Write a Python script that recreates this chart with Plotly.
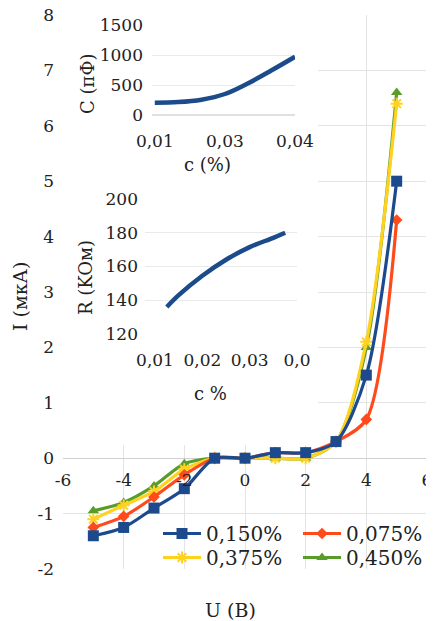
import plotly.graph_objects as go

W, H = 434, 621
OFF = 8  # page body margin of the browser window
FW, FH = W - OFF, H - OFF

# ---------------- data ----------------
u_volts = [-5, -4, -3, -2, -1, 0, 1, 2, 3, 4, 5]
series_names = ["0,150%", "0,075%", "0,375%", "0,450%"]
i_0150 = [-1.40, -1.25, -0.90, -0.55, 0.0, 0.0, 0.10, 0.10, 0.30, 1.50, 5.00]
i_0075 = [-1.25, -1.05, -0.70, -0.30, 0.0, 0.0, 0.10, 0.10, 0.30, 0.70, 4.30]
i_0375 = [-1.10, -0.85, -0.60, -0.20, 0.0, 0.0, 0.00, 0.00, 0.30, 2.10, 6.40]
i_0450 = [-0.95, -0.80, -0.50, -0.10, 0.0, 0.0, 0.00, 0.00, 0.30, 2.00, 6.60]

c_cap = [0.010, 0.015, 0.020, 0.025, 0.030, 0.035, 0.040]
cap_pf = [205, 215, 255, 350, 530, 745, 970]

c_res = [0.0125, 0.015, 0.020, 0.025, 0.030, 0.035, 0.0375]
res_kohm = [136, 143, 154.5, 164, 171.5, 177, 180]

main_x_ticks = [-6, -4, -2, 0, 2, 4, 6]
main_x_text = ["-6", "-4", "-2", "0", "2", "4", "6"]
main_y_ticks = [-2, -1, 0, 1, 2, 3, 4, 5, 6, 7, 8]
main_y_text = ["-2", "-1", "0", "1", "2", "3", "4", "5", "6", "7", "8"]
cap_x_ticks = [0.01, 0.025, 0.04]
cap_x_text = ["0,01", "0,03", "0,04"]
cap_y_ticks = [0, 500, 1000, 1500]
res_x_ticks = [0.01, 0.02, 0.03, 0.04]
res_x_text = ["0,01", "0,02", "0,03", "0,0"]
res_y_ticks = [120, 140, 160, 180, 200]

colors = ["#1D4A8C", "#FF4A1C", "#FFD21F", "#5A9C2A"]
symbols = ["square", "diamond", "asterisk-open", "triangle-up"]
sizes = [11, 9, 10, 10]
legend_ids = ["legend", "legend", "legend2", "legend2"]
legend_ranks = [1, 2, 1, 2]

FONT = "DejaVu Serif"

def px_x(p):
    return (p - OFF) / FW

def px_y(p):
    return 1 - (p - OFF) / FH

fig = go.Figure()

# main axes geometry (screen pixels)
mx0, mx1 = 63, 427
my_top, my_bot = 15, 569
x_per_px = 12 / (mx1 - mx0)
y_per_px = 10 / (my_bot - my_top)

series = [i_0150, i_0075, i_0375, i_0450]
# draw in reverse so the 0,150% series lies on top
for k in reversed(range(len(series))):
    fig.add_trace(go.Scatter(
        x=u_volts, y=series[k], name=series_names[k], mode="lines+markers",
        line=dict(color=colors[k], width=3.2, shape="spline", smoothing=0.8),
        marker=dict(symbol=symbols[k], size=sizes[k], color=colors[k],
                    line=dict(color=colors[k], width=2 if k == 2 else 0)),
        xaxis="x", yaxis="y",
        legend=legend_ids[k], legendrank=legend_ranks[k],
    ))

fig.add_trace(go.Scatter(
    x=c_cap, y=cap_pf, mode="lines", showlegend=False,
    line=dict(color="#1B4B8A", width=4.5, shape="spline"),
    xaxis="x2", yaxis="y2"))

fig.add_trace(go.Scatter(
    x=c_res, y=res_kohm, mode="lines", showlegend=False,
    line=dict(color="#1B4B8A", width=4.5, shape="spline"),
    xaxis="x3", yaxis="y3"))

ydom = [px_y(my_bot), px_y(my_top)]
y_zero_frac = ydom[0] + (0 - (-2)) / 10 * (ydom[1] - ydom[0])

grid = "#E4E4E4"
tickfont = dict(family=FONT, size=17, color="#222")
legfont = dict(family=FONT, size=20, color="#222")

fig.update_layout(
    width=FW, height=FH,
    margin=dict(l=0, r=0, t=0, b=0, autoexpand=False),
    paper_bgcolor="white", plot_bgcolor="white",
    font=dict(family=FONT, color="#222"),
    xaxis=dict(domain=[px_x(mx0), px_x(mx1)], range=[-6, 6],
               tickvals=main_x_ticks, ticktext=main_x_text,
               showgrid=True, gridcolor=grid, zeroline=False,
               showline=False, ticks="", tickfont=tickfont,
               anchor="free", position=y_zero_frac,
               ticklabelstandoff=10, ticklabeloverflow="allow"),
    yaxis=dict(domain=ydom, range=[-2, 8],
               tickvals=main_y_ticks, ticktext=main_y_text,
               showgrid=True, gridcolor=grid, zeroline=True,
               zerolinecolor="#D0D0D0", zerolinewidth=1,
               showline=False, ticks="", tickfont=tickfont,
               anchor="x", ticklabelstandoff=8, ticklabeloverflow="allow"),
    xaxis2=dict(domain=[px_x(152), px_x(295)], range=[0.0094, 0.04],
                tickvals=cap_x_ticks, ticktext=cap_x_text,
                showgrid=False, zeroline=False, showline=False, ticks="",
                tickfont=tickfont, anchor="y2", ticklabelstandoff=14),
    yaxis2=dict(domain=[px_y(115), px_y(25)], range=[0, 1500],
                tickvals=cap_y_ticks, showgrid=True, gridcolor="#EAEAEA",
                zeroline=True, zerolinecolor="#E0E0E0",
                showline=False, ticks="", tickfont=tickfont,
                anchor="x2", ticklabelstandoff=8),
    xaxis3=dict(domain=[px_x(145), px_x(297)], range=[0.00789, 0.0400],
                tickvals=res_x_ticks, ticktext=res_x_text,
                showgrid=False, zeroline=False, showline=False, ticks="",
                tickfont=tickfont, anchor="y3", ticklabelstandoff=14),
    yaxis3=dict(domain=[px_y(334), px_y(199)], range=[120, 200],
                tickvals=res_y_ticks, showgrid=True, gridcolor="#EAEAEA",
                zeroline=False, showline=False, ticks="", tickfont=tickfont,
                anchor="x3", ticklabelstandoff=6),
    legend=dict(orientation="h", x=px_x(158), y=px_y(514), xanchor="left", yanchor="top",
                bgcolor="rgba(0,0,0,0)", borderwidth=0, font=legfont,
                itemwidth=38, entrywidth=87, entrywidthmode="pixels", tracegroupgap=0),
    legend2=dict(orientation="h", x=px_x(158), y=px_y(538), xanchor="left", yanchor="top",
                 bgcolor="rgba(0,0,0,0)", borderwidth=0, font=legfont,
                 itemwidth=38, entrywidth=87, entrywidthmode="pixels", tracegroupgap=0),
    showlegend=True,
)

# white backing for the inset charts (hides main gridlines under them)
fig.add_shape(type="rect", xref="x", yref="y",
              x0=-6 + (55 - mx0) * x_per_px, x1=-6 + (318 - mx0) * x_per_px,
              y0=-2 + (my_bot - 445) * y_per_px, y1=8,
              fillcolor="white", line=dict(width=0), layer="between")

titles = [
    ("I (мкА)", 20, 297, -90, 19),
    ("U (B)", 230, 610, 0, 19),
    ("C (пФ)", 88, 84, -90, 18),
    ("c (%)", 207, 164, 0, 18),
    ("R (KOм)", 85, 278, -90, 18),
    ("c %", 210, 393, 0, 18),
]
for text, x, y, ang, sz in titles:
    fig.add_annotation(text=text, x=px_x(x), y=px_y(y), xref="paper", yref="paper",
                       showarrow=False, textangle=ang, xanchor="center", yanchor="middle",
                       font=dict(family=FONT, size=sz, color="#222"))

fig.write_html("out.html")
